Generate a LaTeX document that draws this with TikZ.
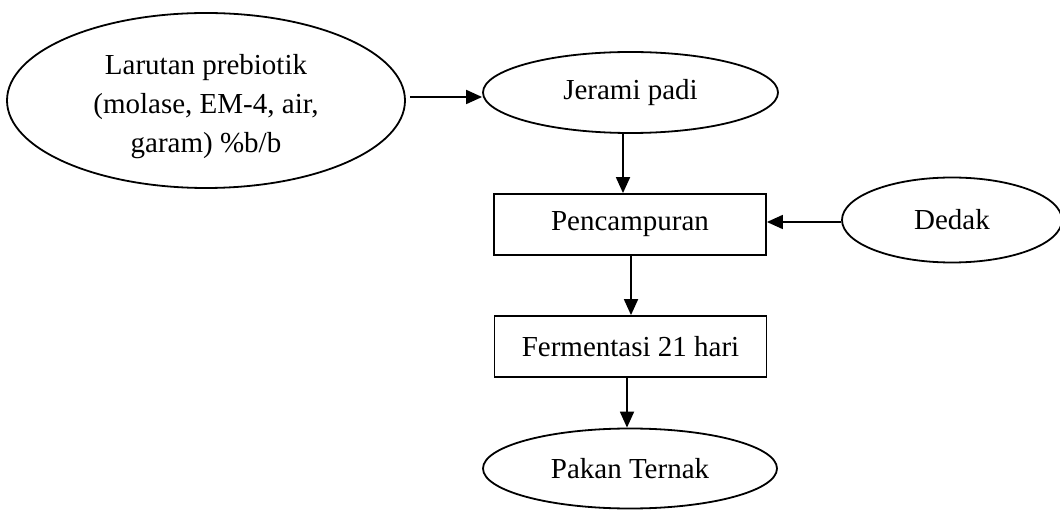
\documentclass[tikz,border=0pt]{standalone}
\usepackage{fontspec}
\setmainfont{Liberation Serif}
\usetikzlibrary{shapes.geometric,arrows.meta}
\begin{document}
\begin{tikzpicture}[x=1pt,y=-1pt,
  every node/.style={font=\fontsize{29}{39}\selectfont, inner sep=0pt, line width=1.8pt},
  oval/.style={draw, ellipse, align=center},
  box/.style={draw, rectangle, minimum width=272pt, minimum height=61pt},
  arr/.style={line width=1.8pt, -{Triangle[length=16pt,width=14pt]}}]
\useasboundingbox (0,0) rectangle (1060,510);
\node[oval, minimum width=398pt, minimum height=175pt] (lar) at (206,100.5) {};
\node[align=center] (lart) at (206,107)
  {Larutan prebiotik\\(molase, EM-4, air,\\garam) \%b/b};
\node[oval, minimum width=295pt, minimum height=81pt] (jer) at (630.5,92.5) {Jerami padi};
\node[box] (pen) at (630,224.5) {Pencampuran};
\node[oval, minimum width=220pt, minimum height=85pt] (ded) at (952,220) {Dedak};
\node[box] (fer) at (630.5,346.5) {Fermentasi 21 hari};
\node[oval, minimum width=294pt, minimum height=80pt] (pak) at (630,468.5) {Pakan Ternak};
\draw[arr] ([xshift=4pt,yshift=3.5pt]lar.east) coordinate (a1) -- (a1 -| jer.west);
\draw[arr] ([xshift=-7.5pt]jer.south) coordinate (a2) -- (a2 |- pen.north);
\draw[arr] ([yshift=-2pt]ded.west) coordinate (a3) -- (a3 -| pen.east);
\draw[arr] ([xshift=1pt]pen.south) coordinate (a4) -- (a4 |- fer.north);
\draw[arr] ([xshift=-3.5pt]fer.south) coordinate (a5) -- (a5 |- pak.north);
\end{tikzpicture}
\end{document}
